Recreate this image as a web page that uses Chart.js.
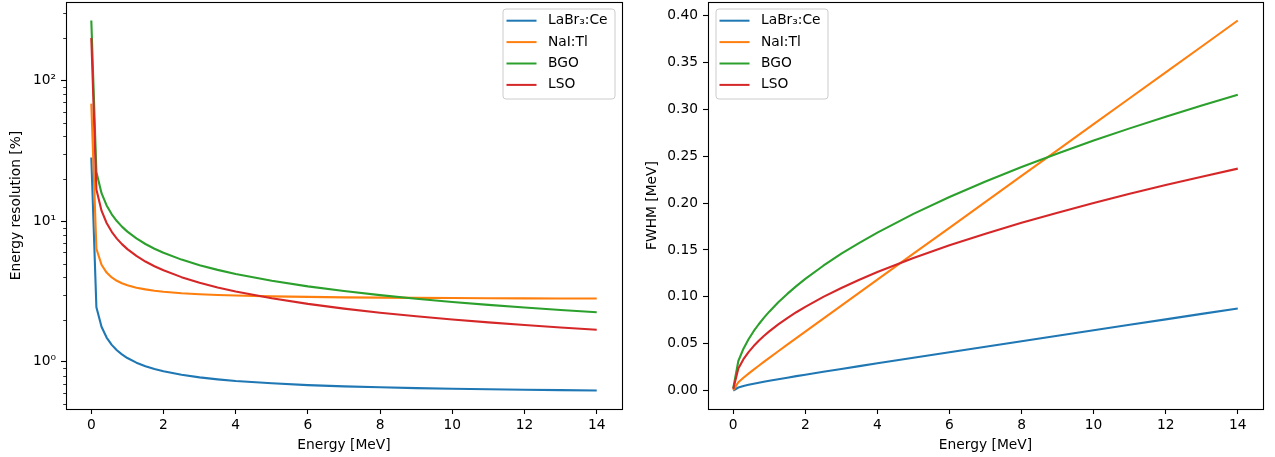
<!DOCTYPE html>
<html><head><meta charset="utf-8">
<script src="https://cdn.jsdelivr.net/npm/chart.js@4.4.1/dist/chart.umd.min.js"></script>
<style>
html,body{margin:0;padding:0;background:#fff;}
#wrap{position:relative;width:1275px;height:457px;overflow:hidden;}
canvas{position:absolute;top:0;}
#c1{left:0;}
#c2{left:637px;}
</style></head><body>
<div id="wrap"><canvas id="c1" width="637" height="457"></canvas><canvas id="c2" width="638" height="457"></canvas></div>
<script>
// ---- data ----
const energy = [0.001, 0.142, 0.284, 0.425, 0.567, 0.708, 0.849, 1.0, 1.25, 1.5, 1.75, 2, 2.5, 3, 3.5, 4, 5, 6, 7, 8, 9, 10, 11, 12, 13, 14];
const seriesNames = ['LaBr₃:Ce', 'NaI:Tl', 'BGO', 'LSO'];

const resLaBr = [28.3, 2.443, 1.775, 1.489, 1.321, 1.210, 1.130, 1.065, 0.987, 0.932, 0.890, 0.857, 0.809, 0.776, 0.751, 0.731, 0.704, 0.684, 0.670, 0.660, 0.651, 0.644, 0.639, 0.634, 0.630, 0.626];
const resNaI  = [68.4, 6.363, 4.903, 4.311, 3.980, 3.768, 3.619, 3.503, 3.367, 3.273, 3.205, 3.152, 3.077, 3.026, 2.989, 2.961, 2.921, 2.894, 2.875, 2.861, 2.849, 2.840, 2.833, 2.826, 2.821, 2.817];
const resBGO  = [266.5, 22.36, 15.81, 12.93, 11.19, 10.01, 9.145, 8.426, 7.537, 6.880, 6.370, 5.958, 5.329, 4.865, 4.504, 4.213, 3.768, 3.440, 3.185, 2.979, 2.809, 2.665, 2.541, 2.432, 2.337, 2.252];
const resLSO  = [200, 16.78, 11.87, 9.701, 8.399, 7.516, 6.864, 6.325, 5.657, 5.164, 4.781, 4.472, 4.000, 3.651, 3.381, 3.162, 2.828, 2.582, 2.390, 2.236, 2.108, 2.000, 1.907, 1.826, 1.754, 1.690];

const fwhmLaBr = [0.00028, 0.00347, 0.00504, 0.00633, 0.00749, 0.00857, 0.00959, 0.01065, 0.01234, 0.01398, 0.01558, 0.01714, 0.02023, 0.02328, 0.02629, 0.02924, 0.0352, 0.04104, 0.0469, 0.0528, 0.05859, 0.0644, 0.07029, 0.07608, 0.0819, 0.08764];
const fwhmNaI  = [0.00068, 0.00904, 0.01392, 0.01832, 0.02257, 0.02668, 0.03073, 0.03503, 0.04209, 0.0491, 0.05609, 0.06304, 0.07693, 0.09078, 0.1046, 0.1184, 0.1461, 0.1736, 0.2013, 0.2289, 0.2564, 0.2840, 0.3116, 0.3391, 0.3667, 0.3944];
const fwhmBGO  = [0.00267, 0.03175, 0.0449, 0.05495, 0.06345, 0.07087, 0.07764, 0.08426, 0.09421, 0.1032, 0.1115, 0.1192, 0.1332, 0.1460, 0.1576, 0.1685, 0.1884, 0.2064, 0.2229, 0.2383, 0.2528, 0.2665, 0.2795, 0.2918, 0.3038, 0.3153];
const fwhmLSO  = [0.0020, 0.02383, 0.03371, 0.04123, 0.04762, 0.05321, 0.05828, 0.06325, 0.07071, 0.07746, 0.08367, 0.08944, 0.1000, 0.1095, 0.1183, 0.1265, 0.1414, 0.1549, 0.1673, 0.1789, 0.1897, 0.2000, 0.2098, 0.2191, 0.2280, 0.2366];

const xTicks = [0, 2, 4, 6, 8, 10, 12, 14];
const logMajorTicks = [1, 10, 100];
const logMajorLabels = ['10⁰', '10¹', '10²'];
const logMinorTicks = [0.5, 0.6, 0.7, 0.8, 0.9, 2, 3, 4, 5, 6, 7, 8, 9, 20, 30, 40, 50, 60, 70, 80, 90, 200, 300];
const fwhmTicks = [0, 0.05, 0.10, 0.15, 0.20, 0.25, 0.30, 0.35, 0.40];

// ---- styles ----
const colors = ['#1f77b4', '#ff7f0e', '#2ca02c', '#d62728'];
const FONT = 'DejaVu Sans';
const FS = 13.8;
Chart.defaults.color = '#000';
Chart.defaults.font.family = FONT;
Chart.defaults.font.size = FS;

function pts(ys) { return energy.map((x, i) => ({x: x, y: ys[i]})); }

const framePlugin = {
  id: 'frame',
  afterDraw(chart, args, opts) {
    const ctx = chart.ctx, a = chart.chartArea;
    ctx.save();
    if (opts.minor) {
      const ys = chart.scales.y;
      ctx.strokeStyle = '#000'; ctx.lineWidth = 0.8;
      opts.minor.forEach(v => {
        const p = Math.round(ys.getPixelForValue(v)) + 0.5;
        ctx.beginPath(); ctx.moveTo(a.left - 2.8, p); ctx.lineTo(a.left, p); ctx.stroke();
      });
    }
    ctx.strokeStyle = '#000'; ctx.lineWidth = 1.1;
    ctx.strokeRect(Math.round(a.left) + 0.5, Math.round(a.top) + 0.5, Math.round(a.right - a.left), Math.round(a.bottom - a.top));
    const lx = opts.legendX, ly = 9, lw = 112, lh = 90, r = 3;
    ctx.beginPath();
    ctx.moveTo(lx + r, ly); ctx.lineTo(lx + lw - r, ly); ctx.arcTo(lx + lw, ly, lx + lw, ly + r, r);
    ctx.lineTo(lx + lw, ly + lh - r); ctx.arcTo(lx + lw, ly + lh, lx + lw - r, ly + lh, r);
    ctx.lineTo(lx + r, ly + lh); ctx.arcTo(lx, ly + lh, lx, ly + lh - r, r);
    ctx.lineTo(lx, ly + r); ctx.arcTo(lx, ly, lx + r, ly, r); ctx.closePath();
    ctx.fillStyle = 'rgba(255,255,255,0.8)'; ctx.fill();
    ctx.strokeStyle = '#cccccc'; ctx.lineWidth = 1; ctx.stroke();
    ctx.font = FS + 'px "' + FONT + '"'; ctx.textBaseline = 'middle'; ctx.textAlign = 'left';
    chart.data.datasets.forEach((ds, i) => {
      const cy = ly + 11.7 + i * 21.4;
      ctx.strokeStyle = ds.borderColor; ctx.lineWidth = 2;
      ctx.beginPath(); ctx.moveTo(lx + 3.5, cy); ctx.lineTo(lx + 33.5, cy); ctx.stroke();
      ctx.fillStyle = '#000';
      ctx.fillText(ds.label, lx + 45, cy);
    });
    ctx.restore();
  }
};

function makeChart(id, series, yOpts, yWidth, rightPad, yTitlePad, legendX, minor) {
  const datasets = series.map((s, i) => ({
    label: seriesNames[i], data: pts(s), borderColor: colors[i], backgroundColor: colors[i],
    borderWidth: 2.1, pointRadius: 0, tension: 0, fill: false, order: 3 - i, borderJoinStyle: 'round'
  }));
  const tickGrid = {display: true, drawOnChartArea: false, drawTicks: true, tickLength: 5, tickWidth: 1.1, tickColor: '#000'};
  return new Chart(document.getElementById(id), {
    type: 'line',
    data: {datasets},
    options: {
      responsive: false, animation: false, devicePixelRatio: 1,
      layout: {padding: {top: 2, right: rightPad, left: 0, bottom: 0}},
      plugins: {legend: {display: false}, tooltip: {enabled: false}, frame: {legendX, minor}},
      scales: {
        x: {
          type: 'linear', min: -0.7, max: 14.7,
          grid: tickGrid, border: {display: false},
          afterBuildTicks: s => { s.ticks = xTicks.map(v => ({value: v})); },
          afterFit: s => { s.height = 48; s.paddingLeft = 0; s.paddingRight = 0; },
          ticks: {autoSkip: false, maxRotation: 0, padding: 3, callback: v => String(v)},
          title: {display: true, text: 'Energy [MeV]', font: {size: FS}, padding: {top: 0, bottom: 3}}
        },
        y: Object.assign({
          grid: tickGrid, border: {display: false},
          afterFit: s => { s.width = yWidth; s.paddingTop = 0; s.paddingBottom = 0; },
        }, yOpts, {title: Object.assign({display: true, font: {size: FS}, padding: {top: yTitlePad, bottom: 0}}, yOpts.title)})
      }
    },
    plugins: [framePlugin]
  });
}

makeChart('c1', [resLaBr, resNaI, resBGO, resLSO], {
  type: 'logarithmic', min: 0.4625, max: 360.7,
  afterBuildTicks: s => { s.ticks = logMajorTicks.map(v => ({value: v})); },
  ticks: {autoSkip: false, padding: 5, callback: (v) => { const k = logMajorTicks.indexOf(v); return k >= 0 ? logMajorLabels[k] : ''; }},
  title: {text: 'Energy resolution [%]'}
}, 66, 15, 8.5, 503, logMinorTicks);

makeChart('c2', [fwhmLaBr, fwhmNaI, fwhmBGO, fwhmLSO], {
  type: 'linear', min: -0.0194, max: 0.4141,
  afterBuildTicks: s => { s.ticks = fwhmTicks.map(v => ({value: v})); },
  ticks: {autoSkip: false, padding: 5, callback: v => v.toFixed(2)},
  title: {text: 'FWHM [MeV]'}
}, 71, 12, 7.5, 79, null);
</script>
</body></html>
